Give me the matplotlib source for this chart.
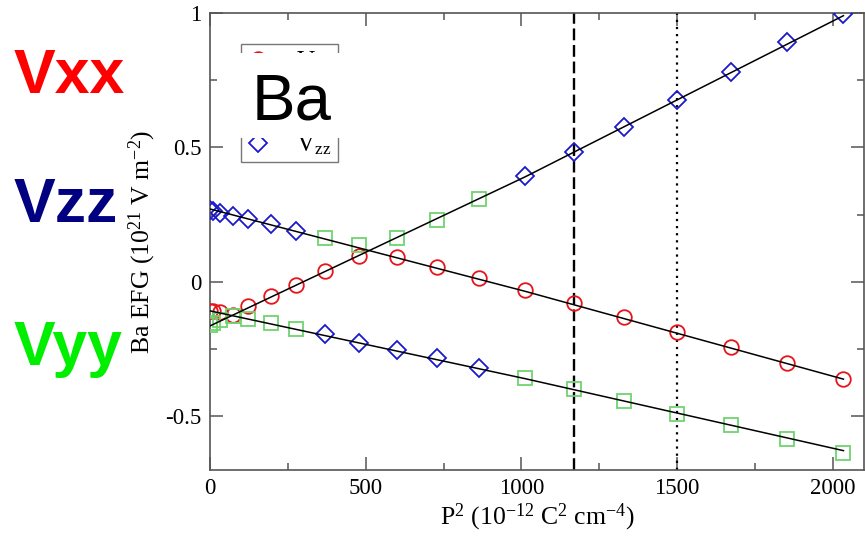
import matplotlib
matplotlib.use('Agg')
import matplotlib.pyplot as plt
from matplotlib.patches import Rectangle
from matplotlib.ticker import MultipleLocator

plt.rcParams['font.family'] = ['Liberation Serif', 'DejaVu Serif']
plt.rcParams['mathtext.fontset'] = 'custom'
plt.rcParams['mathtext.rm'] = 'Liberation Serif'
plt.rcParams['mathtext.it'] = 'Liberation Serif:italic'
plt.rcParams['axes.unicode_minus'] = False

# P^2 values (10^-12 C^2 cm^-4)
p2 = [0, 10, 32, 74, 123, 196, 276, 369, 480, 600, 728, 865,
      1011, 1169, 1330, 1501, 1673, 1852, 2034]

# EFG components (10^21 V m^-2)
vxx = [-0.107, -0.110, -0.113, -0.123, -0.091, -0.052, -0.011, 0.040, 0.097, 0.094,
       0.055, 0.014, -0.032, -0.077, -0.132, -0.185, -0.241, -0.301, -0.363]
vyy = [-0.160, -0.155, -0.143, -0.127, -0.139, -0.152, -0.176, 0.162, 0.136, 0.163,
       0.231, 0.309, -0.356, -0.398, -0.443, -0.490, -0.534, -0.583, -0.637]
vzz = [0.266, 0.264, 0.256, 0.246, 0.234, 0.216, 0.190, -0.194, -0.226, -0.254,
       -0.285, -0.322, 0.393, 0.482, 0.577, 0.677, 0.781, 0.891, 0.998]

# fitted lines
fit_x = [0, 1011, 2034]
fit_a = [-0.164, 0.390, 0.990]
fit_b = [0.271, -0.035, -0.362]
fit_c = [-0.108, -0.360, -0.628]

p2_dashed = 1169
p2_dotted = 1500

fig = plt.figure(figsize=(8.65, 5.4), dpi=100)
ax = fig.add_axes([210 / 865, 70 / 540, 654 / 865, 457 / 540])

hx, = ax.plot(p2, vxx, 'o', ms=10.5, mfc='none', mec='#e8141c', mew=1.3, zorder=3)
hy, = ax.plot(p2, vyy, 's', ms=9.5, mfc='none', mec='#6fd36f', mew=1.3, zorder=3)
hz, = ax.plot(p2, vzz, 'D', ms=9, mfc='none', mec='#1a1acc', mew=1.3, zorder=3)

for fy in (fit_a, fit_b, fit_c):
    ax.plot(fit_x, fy, '-', color='black', lw=1.1, zorder=4)

ax.axvline(p2_dashed, color='black', lw=1.7, linestyle=(0, (5, 2)), zorder=2)
ax.axvline(p2_dotted, color='black', lw=1.6, linestyle=(0, (1, 2.2)), zorder=2)

ax.set_xlim(0, 2100)
ax.set_ylim(-0.7, 1.0)
ax.xaxis.set_major_locator(MultipleLocator(500))
ax.xaxis.set_minor_locator(MultipleLocator(250))
ax.yaxis.set_major_locator(MultipleLocator(0.5))
ax.yaxis.set_minor_locator(MultipleLocator(0.25))
ax.set_yticks([-0.5, 0, 0.5, 1])
ax.set_yticklabels(['-0.5', '0', '0.5', '1'])
ax.tick_params(which='both', direction='in', top=True, right=True,
               colors='#555555', labelcolor='black', labelsize=16.5, width=1.1)
ax.tick_params(which='major', length=9.5, pad=6)
ax.tick_params(which='minor', length=5)
for sp in ax.spines.values():
    sp.set_color('#555555')
    sp.set_linewidth(1.2)

ax.set_xlabel(r'P$^{2}$ (10$^{-12}$ C$^{2}$ cm$^{-4}$)', fontsize=18.5, labelpad=2)
ax.set_ylabel(r'Ba EFG (10$^{21}$ V m$^{-2}$)', fontsize=18.5)
ax.yaxis.set_label_coords(-0.08, 0.5)

leg = ax.legend([hx, hy, hz], [r'V$_{\mathrm{xx}}$', r'V$_{\mathrm{yy}}$', r'V$_{\mathrm{zz}}$'],
                loc='upper left', bbox_to_anchor=(0.047, 0.932), borderaxespad=0,
                fancybox=False, fontsize=18, handlelength=1.0, labelspacing=0.6,
                borderpad=0.2, handletextpad=1.0)
leg.get_frame().set_edgecolor('#555555')
leg.get_frame().set_linewidth(1.0)

# white patch with the element label on top of the legend
ax.add_patch(Rectangle((23 / 654, 332 / 457), 119 / 654, 85 / 457, transform=ax.transAxes,
                       facecolor='white', edgecolor='none', zorder=10))
ax.text(0.124, 0.805, 'Ba', transform=ax.transAxes, ha='center', va='center',
        fontsize=47, family=['Liberation Sans', 'DejaVu Sans'], zorder=11)

labels = [('Vxx', '#ff0000', 93), ('Vzz', '#000080', 222), ('Vyy', '#00ee00', 365)]
for txt, col, base in labels:
    fig.text(14 / 865, 1 - base / 540, txt, color=col, fontsize=45, fontweight='bold',
             family=['Liberation Sans', 'DejaVu Sans'], va='baseline', ha='left')

fig.savefig('out.png', dpi=100)
